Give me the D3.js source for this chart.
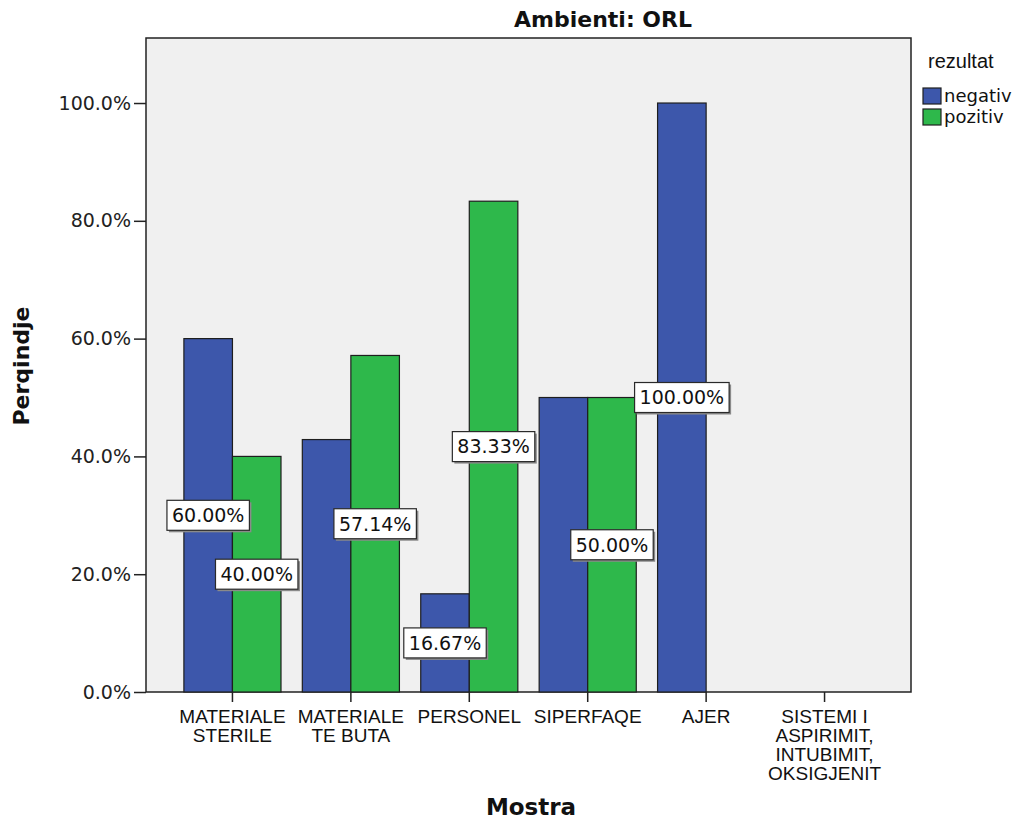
<!DOCTYPE html>
<html>
<head>
<meta charset="utf-8">
<script src="https://cdn.jsdelivr.net/npm/d3@7"></script>
<style>
  html, body { margin: 0; padding: 0; background: #ffffff; }
  svg { display: block; }
</style>
</head>
<body>
<svg id="chart" width="1019" height="823"></svg>
<script>
// Sample types (x axis), one line per array entry of the wrapped label
const categories = ["MATERIALE STERILE", "MATERIALE TE BUTA", "PERSONEL", "SIPERFAQE", "AJER", "SISTEMI I ASPIRIMIT, INTUBIMIT, OKSIGJENIT"];
const categoryLines = [
  ["MATERIALE", "STERILE"],
  ["MATERIALE", "TE BUTA"],
  ["PERSONEL"],
  ["SIPERFAQE"],
  ["AJER"],
  ["SISTEMI I", "ASPIRIMIT,", "INTUBIMIT,", "OKSIGJENIT"]
];
const seriesNames = ["negativ", "pozitiv"];
// Percent per sample type; null = no bar
const negativ = [60.00, 42.86, 16.67, 50.00, 100.00, null];
const pozitiv = [40.00, 57.14, 83.33, 50.00, null, null];
// Which bars carry a value label
const negativLabelled = [true, false, true, false, true, false];
const pozitivLabelled = [true, true, true, true, false, false];
const yTicks = [0, 20, 40, 60, 80, 100];

const colors = { negativ: "#3d57ab", pozitiv: "#2eb84b" };

const svg = d3.select("#chart");
const plot = { left: 146, right: 911, top: 38, bottom: 692 };

const x = d3.scaleBand()
  .domain(categories)
  .range([plot.left, plot.right])
  .paddingInner(0.18)
  .paddingOuter(0.32);
const xSub = d3.scaleBand()
  .domain(seriesNames)
  .range([0, x.bandwidth()]);
const y = d3.scaleLinear()
  .domain([0, 111.04])
  .range([plot.bottom, plot.top]);

// Plot background and frame
svg.append("rect")
  .attr("x", plot.left).attr("y", plot.top)
  .attr("width", plot.right - plot.left)
  .attr("height", plot.bottom - plot.top)
  .attr("fill", "#f0f0f0")
  .attr("stroke", "#222")
  .attr("stroke-width", 1.5);

// Bars
const rows = [];
categories.forEach((c, i) => {
  rows.push({ cat: c, s: "negativ", v: negativ[i], lab: negativLabelled[i] });
  rows.push({ cat: c, s: "pozitiv", v: pozitiv[i], lab: pozitivLabelled[i] });
});
const bars = rows.filter(d => d.v !== null && d.v > 0);

svg.append("g").selectAll("rect")
  .data(bars)
  .join("rect")
  .attr("x", d => x(d.cat) + xSub(d.s))
  .attr("y", d => y(d.v))
  .attr("width", xSub.bandwidth())
  .attr("height", d => y(0) - y(d.v))
  .attr("fill", d => colors[d.s])
  .attr("stroke", "#1e1e1e")
  .attr("stroke-width", 1.2);

// Y axis
const yAxis = svg.append("g")
  .attr("transform", `translate(${plot.left},0)`)
  .call(d3.axisLeft(y).tickValues(yTicks).tickFormat(d => d.toFixed(1) + "%").tickSize(12).tickPadding(3));
yAxis.select(".domain").remove();
yAxis.selectAll(".tick line").attr("stroke", "#222").attr("stroke-width", 1.5);
yAxis.selectAll(".tick text")
  .attr("font-family", "DejaVu Sans, Verdana, sans-serif")
  .attr("font-size", 19)
  .attr("fill", "#222");

// X axis
const xAxis = svg.append("g")
  .attr("transform", `translate(0,${plot.bottom})`)
  .call(d3.axisBottom(x).tickSize(10).tickFormat(""));
xAxis.select(".domain").remove();
xAxis.selectAll(".tick line").attr("stroke", "#222").attr("stroke-width", 1.5);
xAxis.selectAll(".tick text").remove();
xAxis.selectAll(".tick").each(function(d, i) {
  const t = d3.select(this).append("text")
    .attr("text-anchor", "middle")
    .attr("font-family", "Liberation Sans, Arial, sans-serif")
    .attr("font-size", 19)
    .attr("fill", "#111");
  categoryLines[i].forEach((ln, k) => {
    t.append("tspan").attr("x", 0).attr("y", 31 + k * 19).text(ln);
  });
});

// Value labels at mid-height of each bar
const labelG = svg.append("g");
bars.filter(d => d.lab).forEach(d => {
  const cx = x(d.cat) + xSub(d.s) + xSub.bandwidth() / 2;
  const cy = y(d.v / 2);
  const g = labelG.append("g").attr("transform", `translate(${cx},${cy})`);
  const shadow = g.append("rect").attr("fill", "#8a8a8a");
  const box = g.append("rect").attr("fill", "#ffffff").attr("stroke", "#2a2a2a").attr("stroke-width", 1.2);
  const txt = g.append("text")
    .attr("text-anchor", "middle")
    .attr("dy", "0.36em")
    .attr("font-family", "DejaVu Sans, Verdana, sans-serif")
    .attr("font-size", 19)
    .attr("fill", "#111")
    .text(d.v.toFixed(2) + "%");
  const w = txt.node().getComputedTextLength() + 10;
  const h = 30;
  box.attr("x", -w / 2).attr("y", -h / 2).attr("width", w).attr("height", h);
  shadow.attr("x", -w / 2 + 2).attr("y", -h / 2 + 2).attr("width", w).attr("height", h);
});

// Title
svg.append("text")
  .attr("x", 603).attr("y", 27)
  .attr("text-anchor", "middle")
  .attr("font-family", "DejaVu Sans, Verdana, sans-serif")
  .attr("font-weight", "bold")
  .attr("font-size", 22)
  .attr("fill", "#111")
  .text("Ambienti: ORL");

// Axis titles
svg.append("text")
  .attr("x", 531).attr("y", 815)
  .attr("text-anchor", "middle")
  .attr("font-family", "DejaVu Sans, Verdana, sans-serif")
  .attr("font-weight", "bold")
  .attr("font-size", 23)
  .attr("fill", "#111")
  .text("Mostra");

svg.append("text")
  .attr("transform", "translate(29,366) rotate(-90)")
  .attr("text-anchor", "middle")
  .attr("font-family", "DejaVu Sans, Verdana, sans-serif")
  .attr("font-weight", "bold")
  .attr("font-size", 22)
  .attr("fill", "#111")
  .text("Perqindje");

// Legend
const legend = svg.append("g");
legend.append("text")
  .attr("x", 928).attr("y", 68)
  .attr("font-family", "Liberation Sans, Arial, sans-serif")
  .attr("font-size", 20)
  .attr("fill", "#111")
  .text("rezultat");
seriesNames.forEach((s, i) => {
  legend.append("rect")
    .attr("x", 923).attr("y", 88 + i * 21)
    .attr("width", 18).attr("height", 16)
    .attr("fill", colors[s])
    .attr("stroke", "#1e1e1e")
    .attr("stroke-width", 1.2);
  legend.append("text")
    .attr("x", 944).attr("y", 102 + i * 21)
    .attr("font-family", "DejaVu Sans, Verdana, sans-serif")
    .attr("font-size", 18)
    .attr("fill", "#111")
    .text(s);
});
</script>
</body>
</html>
